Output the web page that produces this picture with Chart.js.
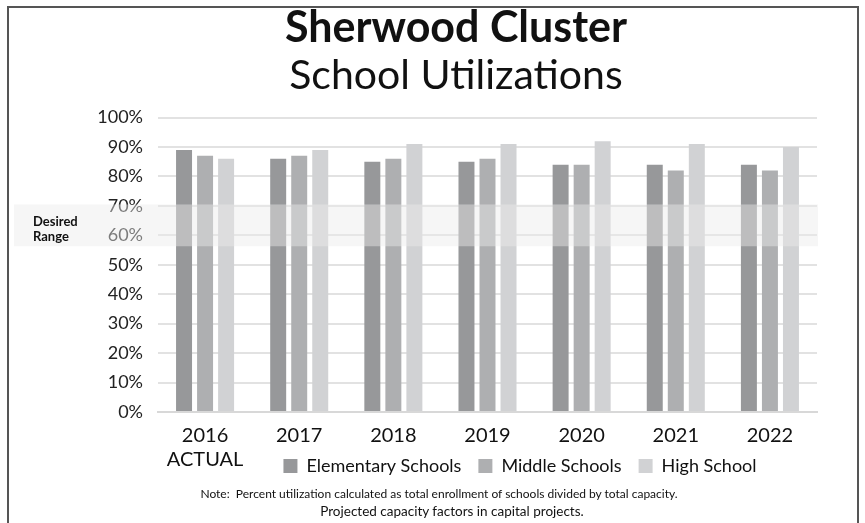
<!DOCTYPE html>
<html>
<head>
<meta charset="utf-8">
<script src="https://cdn.jsdelivr.net/npm/chart.js@4/dist/chart.umd.min.js"></script>
<style>
  html, body { margin: 0; padding: 0; background: #fff; }
  #wrap { position: relative; width: 865px; height: 523px; overflow: hidden; }
  #frame {
    position: absolute; left: 7px; top: 6px; width: 852px; height: 530px;
    border: 2px solid #555; border-bottom: none; box-sizing: border-box;
  }
  .note {
    position: absolute; width: 700px; text-align: center;
    font-family: Lato, sans-serif; color: #111; white-space: pre; line-height: 16px;
  }
  canvas { position: absolute; left: 0; top: 0; }
</style>
</head>
<body>
<div id="wrap">
  <canvas id="chart" width="865" height="523"></canvas>
  <div id="frame"></div>
  <div class="note" style="left: 89px; top: 486px; font-size: 12px;">Note:  Percent utilization calculated as total enrollment of schools divided by total capacity.</div>
  <div class="note" style="left: 102px; top: 503px; font-size: 13.5px;">Projected capacity factors in capital projects.</div>
</div>
<script>
// Data
const years = [['2016', 'ACTUAL'], '2017', '2018', '2019', '2020', '2021', '2022'];
const elementary = [89, 86, 85, 85, 84, 84, 84];
const middle = [87, 87, 86, 86, 84, 82, 82];
const high = [86, 89, 91, 91, 92, 91, 90];
const desiredRange = [56.3, 70.5];

// Let the two-line first label show and nudge the legend right of "ACTUAL"
const layoutTweaks = {
    id: 'layoutTweaks',
    afterLayout(chart) {
        chart.scales.x.bottom = chart.height;
        chart.legend.left += 64;
        chart.legend.right += 64;
    }
};

// Band over the desired range, drawn on top of everything
const desiredBand = {
    id: 'desiredBand',
    afterDraw(chart) {
        const { ctx, chartArea, scales: { y } } = chart;
        const top = y.getPixelForValue(desiredRange[1]);
        const bottom = y.getPixelForValue(desiredRange[0]);
        ctx.save();
        ctx.fillStyle = 'rgba(235, 235, 236, 0.45)';
        ctx.fillRect(14, top, chartArea.right + 1 - 14, bottom - top);
        ctx.fillStyle = '#111';
        ctx.font = 'bold 13px Lato, sans-serif';
        ctx.textBaseline = 'middle';
        ctx.fillText('Desired', 33, top + 17);
        ctx.fillText('Range', 33, top + 32);
        ctx.restore();
    }
};

new Chart(document.getElementById('chart'), {
    type: 'bar',
    data: {
        labels: years,
        datasets: [
            { label: 'Elementary Schools', data: elementary, backgroundColor: '#97989a' },
            { label: 'Middle Schools', data: middle, backgroundColor: '#aeafb1' },
            { label: 'High School', data: high, backgroundColor: '#d1d2d4' }
        ]
    },
    options: {
        responsive: false,
        animation: false,
        layout: { padding: { left: 95, right: 48, top: 2, bottom: 38 } },
        datasets: { bar: { categoryPercentage: 0.67, barPercentage: 0.76 } },
        plugins: {
            title: {
                display: true,
                text: 'Sherwood Cluster',
                color: '#111',
                font: { family: 'Lato, sans-serif', size: 43, weight: 'bold', lineHeight: 1.2 },
                padding: { top: 0, bottom: 2 }
            },
            subtitle: {
                display: true,
                text: 'School Utilizations',
                color: '#111',
                font: { family: 'Lato, sans-serif', size: 41, lineHeight: 1.0 },
                padding: { top: 0, bottom: 21 }
            },
            legend: {
                position: 'bottom',
                labels: {
                    boxWidth: 14, boxHeight: 14, padding: 17,
                    color: '#111',
                    font: { family: 'Lato, sans-serif', size: 18 }
                }
            },
            tooltip: { enabled: false }
        },
        scales: {
            x: {
                grid: { display: false, drawTicks: false },
                border: { color: '#d8d8d8', width: 2 },
                ticks: { padding: 12, color: '#111', font: { family: 'Lato, sans-serif', size: 20 } },
                afterFit: (scale) => { scale.height = 28; }
            },
            y: {
                min: 0, max: 100,
                grid: { color: '#e2e2e2', lineWidth: 2, drawTicks: false },
                border: { display: false },
                ticks: {
                    stepSize: 10, padding: 15, color: '#222',
                    font: { family: 'Lato, sans-serif', size: 18 },
                    callback: (v) => v + '%'
                },
                afterFit: (scale) => { scale.width = 63; }
            }
        }
    },
    plugins: [layoutTweaks, desiredBand]
});
</script>
</body>
</html>
